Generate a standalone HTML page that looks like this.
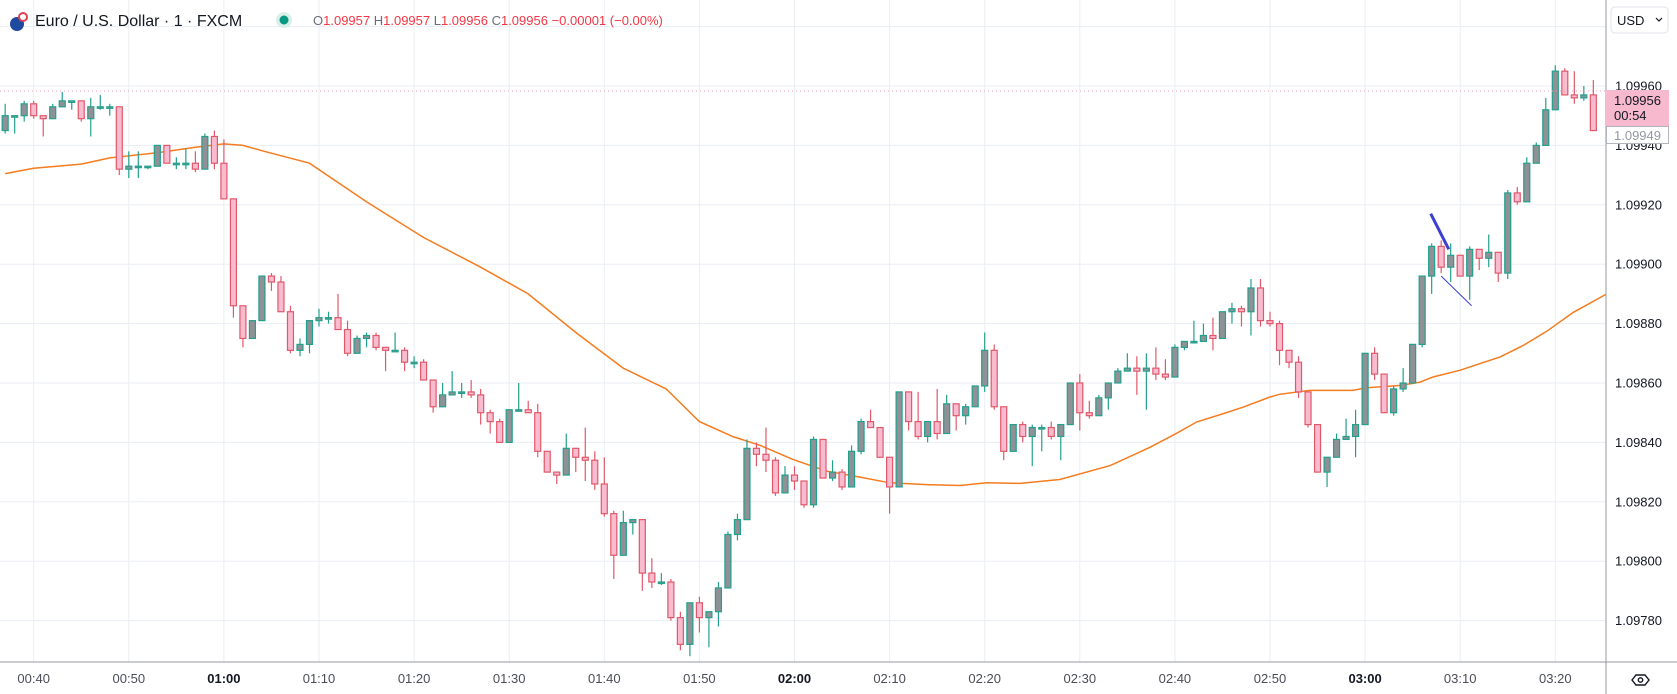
<!DOCTYPE html>
<html><head><meta charset="utf-8"><style>
html,body{margin:0;padding:0;background:#fff;}
svg{display:block;font-family:"Liberation Sans",sans-serif;}
</style></head><body>
<svg id="chart" xmlns="http://www.w3.org/2000/svg" width="1677" height="694" viewBox="0 0 1677 694">
<rect x="0" y="0" width="1677" height="694" fill="#ffffff"/>
<g id="grid"></g>
<g id="ema"></g>
<g id="candles"></g>
<g id="drawings"></g>
<line x1="0" y1="91" x2="1606" y2="91" stroke="#f0a0b8" stroke-width="1" stroke-dasharray="1,3"/>
<line x1="1606" y1="0" x2="1606" y2="694" stroke="#9598a1" stroke-width="1"/>
<line x1="0" y1="662" x2="1677" y2="662" stroke="#9598a1" stroke-width="1"/>
<g id="yaxis"></g>
<g id="xaxis"></g>
<g>
<rect x="1611" y="7" width="57" height="26" rx="4" fill="#fff" stroke="#e0e3eb"/>
<text x="1617" y="25" font-size="13" fill="#131722">USD</text>
<path d="M1656 18 l3 3 l3 -3" fill="none" stroke="#131722" stroke-width="1.2"/>
</g>
<g>
<rect x="1606" y="90" width="63" height="36" fill="#f7b9cd"/>
<text x="1614" y="105" font-size="13" fill="#131722">1.09956</text>
<text x="1614" y="120" font-size="13" fill="#131722">00:54</text>
</g>
<g>
<rect x="1606.5" y="126.5" width="62" height="17" fill="#fff" stroke="#b2b5be"/>
<text x="1614" y="140" font-size="13" fill="#9598a1">1.09949</text>
</g>
<g>
<path d="M1632 680 l4 -5 h9 l4 5 l-4 5 h-9 z" fill="none" stroke="#131722" stroke-width="1.4"/>
<circle cx="1640.5" cy="680" r="2.2" fill="none" stroke="#131722" stroke-width="1.4"/>
</g>
<g>
<g>
<circle cx="17" cy="24" r="7" fill="#1f4aa0"/>
<circle cx="23" cy="17" r="5" fill="#e04050"/>
<circle cx="23" cy="17" r="3" fill="#fff"/>
</g>
<text x="35" y="26" font-size="16" fill="#131722">Euro / U.S. Dollar · 1 · FXCM</text>
<circle cx="284" cy="20" r="8" fill="#d9f0ea"/>
<circle cx="284" cy="20" r="4.5" fill="#089981"/>
<text x="313" y="25" font-size="13"><tspan fill="#6a6d78">O</tspan><tspan fill="#f23645">1.09957</tspan><tspan fill="#6a6d78"> H</tspan><tspan fill="#f23645">1.09957</tspan><tspan fill="#6a6d78"> L</tspan><tspan fill="#f23645">1.09956</tspan><tspan fill="#6a6d78"> C</tspan><tspan fill="#f23645">1.09956 −0.00001 (−0.00%)</tspan></text>
</g>
</svg>
<script>
// values in 1e-5 units above 1.09 (e.g. 945 => 1.09945), one entry per 1-minute candle starting 00:37
const opens =[945,950,950,954,950,949,953,955,955,949,953,953,953,932,933,933,933,940,934,934,934,932,943,934,922,886,875,881,896,894,884,871,873,881,882,882,878,870,875,876,872,871,871,867,867,861,852,856,857,857,856,850,847,840,851,851,850,837,830,829,838,835,834,826,816,802,813,814,796,793,793,781,772,786,781,783,791,809,814,838,836,834,823,829,827,819,841,828,830,825,837,847,845,835,825,857,847,842,847,843,853,849,852,859,871,852,837,846,842,845,845,842,846,860,850,849,855,860,864,865,864,865,863,862,872,874,874,876,875,884,885,884,892,881,880,871,867,857,846,830,835,841,842,846,870,863,850,858,860,873,896,906,899,903,896,905,902,904,897,924,921,934,940,952,965,957,956,957];
const highs =[954,950,955,955,950,954,958,955,955,956,957,954,953,938,938,933,940,940,936,939,938,944,945,942,922,886,881,896,897,896,886,875,881,885,884,890,881,876,877,877,872,877,872,869,868,861,860,864,860,861,858,851,848,851,860,854,853,837,830,843,838,845,837,835,817,817,814,814,801,796,794,783,786,788,783,793,810,816,841,840,845,835,832,832,827,842,841,834,831,839,848,851,845,835,857,857,857,847,858,856,853,853,859,877,873,852,846,847,846,846,847,846,860,863,854,856,860,865,870,869,870,872,868,873,874,881,880,882,884,887,886,895,895,884,881,871,869,857,846,835,843,848,851,870,872,863,859,865,873,896,907,908,907,903,906,905,910,904,925,926,936,941,956,967,966,965,960,962];
const lows  =[944,944,948,949,943,949,953,952,948,943,952,950,930,929,929,932,933,934,932,932,931,932,932,922,882,872,875,881,891,884,870,869,870,879,880,878,869,870,872,871,864,871,864,865,861,850,852,856,855,855,846,843,840,840,851,850,835,830,826,829,830,827,824,815,794,802,809,790,791,792,780,770,768,776,771,778,791,807,814,832,830,822,823,824,818,818,828,827,824,825,836,845,835,816,825,844,841,840,841,843,844,846,852,857,851,834,837,840,832,837,841,834,846,844,848,849,851,860,864,856,851,861,861,862,871,874,874,871,875,880,879,876,879,879,866,865,855,845,830,825,835,841,835,846,861,850,849,857,860,872,890,897,894,896,888,898,899,894,895,920,921,934,940,952,957,954,955,945];
const closes=[950,950,954,950,949,953,955,955,949,953,953,953,932,933,933,933,940,934,934,934,932,943,934,922,886,875,881,896,894,884,871,873,881,882,882,878,870,875,876,872,871,871,867,867,861,852,856,857,857,856,850,847,840,851,851,850,837,830,829,838,835,834,826,816,802,813,814,796,793,793,781,772,786,781,783,791,809,814,838,836,834,823,829,827,819,841,828,830,825,837,847,845,835,825,857,847,842,847,843,853,849,852,859,871,852,837,846,842,845,845,842,846,860,850,849,855,860,864,865,864,865,863,862,872,874,874,876,875,884,885,884,892,881,880,871,867,857,846,830,835,841,842,846,870,863,850,858,860,873,896,906,899,903,896,905,902,904,897,924,921,934,940,952,965,957,956,957,945];
// moving average readings: candle index and value (1e-5 units above 1.09)
const emaIdx=[0,3,8,11,16,20,23,25,27,32,38,44,50,55,60,65,69.5,73,76.5,79.4,82.8,86.4,89.9,93,96.9,100.4,103.2,106.7,110.9,116.2,120.4,123.2,125.3,128.1,130.2,133,134,137.2,141.7,143.2,146.7,148.8,150.1,153,157.2,159.6,162.1,164.9,168.3];
const emaVal=[930.5,932.3,933.7,935.8,937.5,939.4,940.5,940,938.2,934,921,909,899,890,877,865,858,847,842,839,834.3,830.3,828.3,826.4,825.8,825.5,826.4,826.2,827.5,832.2,838.4,843.1,846.9,849.7,851.9,855.3,856.2,857.5,857.5,858.4,859.2,860.3,862,864.3,868.8,872.6,877.4,883.8,889.8];
const priceTicks=[1.0998,1.0996,1.0994,1.0992,1.0990,1.0988,1.0986,1.0984,1.0982,1.0980,1.0978];
const timeTicks=["00:40","00:50","01:00","01:10","01:20","01:30","01:40","01:50","02:00","02:10","02:20","02:30","02:40","02:50","03:00","03:10","03:20"];
const timeTickIdx=[3,13,23,33,43,53,63,73,83,93,103,113,123,133,143,153,163];

const NS="http://www.w3.org/2000/svg";
function xOf(k){return 33.7+(k-3)*9.51;}
function yOfUnits(v){return 86+(960-v)*2.97;}
function yOfPrice(p){return yOfUnits((p-1.09)*100000);}
function mk(tag,attrs,parent){const e=document.createElementNS(NS,tag);for(const a in attrs)e.setAttribute(a,attrs[a]);parent.appendChild(e);return e;}

const grid=document.getElementById('grid');
priceTicks.forEach(p=>{const y=yOfPrice(p);
 const l=mk('line',{x1:0,x2:1606,y1:y,y2:y,stroke:'#eaeef3','stroke-width':1},grid);
 
 });
timeTickIdx.forEach(k=>{const x=xOf(k);
 const l=mk('line',{x1:x,x2:x,y1:0,y2:662,stroke:'#eaeef3','stroke-width':1},grid);
 
 });

const ya=document.getElementById('yaxis');
priceTicks.forEach(p=>{const y=yOfPrice(p); if(y<40||y>650)return;
 const t=mk('text',{x:1615,y:y+4.5,'font-size':13,fill:'#131722'},ya);
 t.textContent=p.toFixed(5);
 
 });

const xa=document.getElementById('xaxis');
timeTicks.forEach((s,i)=>{const x=xOf(timeTickIdx[i]);
 const bold=s.endsWith(":00");
 const t=mk('text',{x:x,y:683,'font-size':13,'text-anchor':'middle',fill:bold?'#131722':'#4a4d57','font-weight':bold?'bold':'normal'},xa);
 t.textContent=s;
 
 });

const eg=document.getElementById('ema');
let d='';emaIdx.forEach((k,i)=>{d+=(i?'L':'M')+xOf(k).toFixed(1)+' '+yOfUnits(emaVal[i]).toFixed(1);});
const ep=mk('path',{d:d,fill:'none',stroke:'#f57c1f','stroke-width':1.5},eg);



const cg=document.getElementById('candles');
for(let k=0;k<opens.length;k++){
 const o=opens[k],h=highs[k],l=lows[k],c=closes[k];
 const up=c>=o;
 const stroke=up?'#22a08c':'#e0596a';
 const fill=up?'#8f9196':'#f8bbd0';
 const x=xOf(k);
 const g=mk('g',{},cg);
 
 
 mk('line',{x1:x,x2:x,y1:yOfUnits(h),y2:yOfUnits(l),stroke:stroke,'stroke-width':1.2},g);
 const yt=yOfUnits(Math.max(o,c)),yb=yOfUnits(Math.min(o,c));
 const hh=Math.max(yb-yt,1.5);
 mk('rect',{x:x-3,y:yt,width:6,height:hh,fill:fill,stroke:stroke,'stroke-width':1.2},g);
}

const dg=document.getElementById('drawings');
const t1=mk('line',{x1:xOf(149.9),y1:yOfUnits(917),x2:xOf(151.8),y2:yOfUnits(905),stroke:'#3d3fd4','stroke-width':3},dg);


const t2=mk('line',{x1:xOf(151),y1:yOfUnits(896),x2:xOf(154.2),y2:yOfUnits(886),stroke:'#3d3fd4','stroke-width':1},dg);


</script>
</body></html>
